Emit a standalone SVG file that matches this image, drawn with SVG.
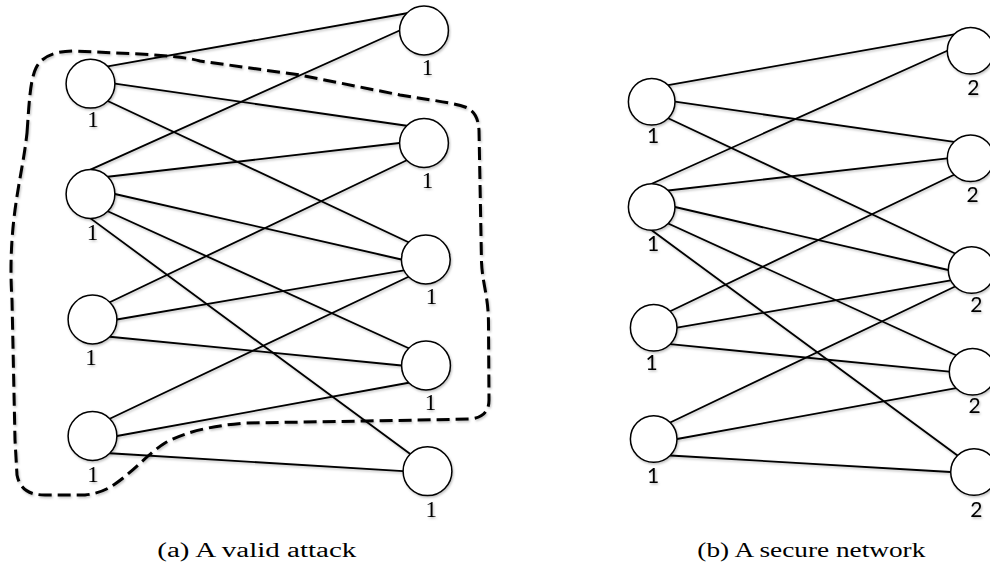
<svg xmlns="http://www.w3.org/2000/svg" width="990" height="563" viewBox="0 0 990 563">
<defs>
<filter id="sh" x="-10%" y="-10%" width="120%" height="120%">
<feDropShadow dx="1" dy="1.5" stdDeviation="1" flood-color="#000" flood-opacity="0.25"/>
</filter>
</defs>
<style>
.edge{stroke:#000;stroke-width:1.8;fill:none;stroke-linecap:round}
.node circle{fill:#fff;stroke:#000;stroke-width:1.5}
.lbl{font-family:"Liberation Serif","Times New Roman",serif;font-size:23px;fill:#000;text-anchor:middle}
.lbl2{font-family:Lato,"DejaVu Sans",sans-serif;font-size:21px;fill:#000;text-anchor:middle}
.cap{font-family:"Liberation Serif","Times New Roman",serif;font-size:20px;fill:#000}
.region{fill:none;stroke:#000;stroke-width:3;stroke-dasharray:13 6}
</style>
<rect width="990" height="563" fill="#fff"/>

<g id="attack-region" filter="url(#sh)">
<path class="region" d="M 27,133 C 29,105 30,80 36,68 C 42,56 55,51 75,51 L 140,54 C 170,56 185,57 200,61 L 300,75 L 400,95 C 430,100 455,103 465,107 C 475,111 478,118 479,130 L 481.5,262 C 482.5,285 488.5,295 488.5,325 L 489,400 C 489,412 482,418 470,419 L 367,421 L 245,423 C 210,426 185,432 165,443 C 150,452 135,470 115,484 C 105,491 95,494 85,495 L 45,495 C 30,495 20,490 17,475 L 15,440 L 12,300 C 10,270 11,240 15,210 C 19,180 24,160 27,133 Z"/>
</g>

<g id="connectors" filter="url(#sh)">
<g id="edges-a">
<line class="edge" x1="107.75" y1="66.45" x2="406.75" y2="13.25"/>
<line class="edge" x1="114.9" y1="83.7" x2="406.75" y2="125.75"/>
<line class="edge" x1="107.75" y1="100.95" x2="408.55" y2="242.25"/>
<line class="edge" x1="90.5" y1="169.6" x2="399.6" y2="30.5"/>
<line class="edge" x1="107.75" y1="176.75" x2="399.6" y2="143"/>
<line class="edge" x1="114.9" y1="194" x2="401.4" y2="259.5"/>
<line class="edge" x1="107.75" y1="211.25" x2="408.75" y2="348.25"/>
<line class="edge" x1="90.5" y1="218.4" x2="410.25" y2="453.95"/>
<line class="edge" x1="109.75" y1="302.25" x2="406.75" y2="160.25"/>
<line class="edge" x1="116.9" y1="319.5" x2="404" y2="270.4"/>
<line class="edge" x1="109.75" y1="336.75" x2="401.6" y2="365.5"/>
<line class="edge" x1="109.75" y1="418.75" x2="408.55" y2="276.75"/>
<line class="edge" x1="116.9" y1="436" x2="408.75" y2="382.75"/>
<line class="edge" x1="109.75" y1="453.25" x2="403.1" y2="471.2"/>
</g>
<g id="edges-b">
<line class="edge" x1="668.2" y1="85.2" x2="954.1" y2="34.3"/>
<line class="edge" x1="675" y1="101.7" x2="954.1" y2="141.8"/>
<line class="edge" x1="668.2" y1="118.2" x2="955.1" y2="253.5"/>
<line class="edge" x1="651.7" y1="183.7" x2="947.3" y2="50.8"/>
<line class="edge" x1="668.2" y1="190.5" x2="947.3" y2="158.3"/>
<line class="edge" x1="675" y1="207" x2="948.3" y2="270"/>
<line class="edge" x1="668.2" y1="223.5" x2="956.1" y2="355.2"/>
<line class="edge" x1="651.7" y1="230.3" x2="957.5" y2="455.5"/>
<line class="edge" x1="670.2" y1="311.2" x2="954.1" y2="174.8"/>
<line class="edge" x1="677" y1="327.7" x2="950.8" y2="280.4"/>
<line class="edge" x1="670.2" y1="344.2" x2="949.3" y2="371.7"/>
<line class="edge" x1="670.2" y1="422.5" x2="955.1" y2="286.5"/>
<line class="edge" x1="677" y1="439" x2="956.1" y2="388.2"/>
<line class="edge" x1="670.2" y1="455.5" x2="950.7" y2="472"/>
</g>
</g>

<g id="nodes-a" filter="url(#sh)">
<g id="a-L1" class="node"><circle cx="90.5" cy="83.7" r="24.4"/><text class="lbl" x="93" y="127">1</text></g>
<g id="a-L2" class="node"><circle cx="90.5" cy="194" r="24.4"/><text class="lbl" x="92.5" y="240">1</text></g>
<g id="a-L3" class="node"><circle cx="92.5" cy="319.5" r="24.4"/><text class="lbl" x="91" y="365">1</text></g>
<g id="a-L4" class="node"><circle cx="92.5" cy="436" r="24.4"/><text class="lbl" x="93" y="482">1</text></g>
<g id="a-R1" class="node"><circle cx="424" cy="30.5" r="24.4"/><text class="lbl" x="427.5" y="75">1</text></g>
<g id="a-R2" class="node"><circle cx="424" cy="143" r="24.4"/><text class="lbl" x="427.5" y="188">1</text></g>
<g id="a-R3" class="node"><circle cx="425.8" cy="259.5" r="24.4"/><text class="lbl" x="431.5" y="304">1</text></g>
<g id="a-R4" class="node"><circle cx="426" cy="365.5" r="24.4"/><text class="lbl" x="430.5" y="410">1</text></g>
<g id="a-R5" class="node"><circle cx="427.5" cy="471.2" r="24.4"/><text class="lbl" x="431.3" y="517">1</text></g>
</g>

<g id="nodes-b" filter="url(#sh)">
<g id="b-L1" class="node"><circle cx="651.7" cy="101.7" r="23.3"/><text class="lbl2" x="653" y="143">1</text></g>
<g id="b-L2" class="node"><circle cx="651.7" cy="207" r="23.3"/><text class="lbl2" x="653" y="251">1</text></g>
<g id="b-L3" class="node"><circle cx="653.7" cy="327.7" r="23.3"/><text class="lbl2" x="651.7" y="370">1</text></g>
<g id="b-L4" class="node"><circle cx="653.7" cy="439" r="23.3"/><text class="lbl2" x="653" y="483">1</text></g>
<g id="b-R1" class="node"><circle cx="970.6" cy="50.8" r="23.3"/><text class="lbl2" x="973.3" y="95">2</text></g>
<g id="b-R2" class="node"><circle cx="970.6" cy="158.3" r="23.3"/><text class="lbl2" x="972.5" y="202">2</text></g>
<g id="b-R3" class="node"><circle cx="971.6" cy="270" r="23.3"/><text class="lbl2" x="976.3" y="312">2</text></g>
<g id="b-R4" class="node"><circle cx="972.6" cy="371.7" r="23.3"/><text class="lbl2" x="974.7" y="413">2</text></g>
<g id="b-R5" class="node"><circle cx="974" cy="472" r="23.3"/><text class="lbl2" x="976.3" y="517">2</text></g>
</g>

<g id="captions">
<text class="cap" x="157.3" y="556.7" textLength="199" lengthAdjust="spacingAndGlyphs">(a) A valid attack</text>
<text class="cap" x="697.3" y="556.7" textLength="228" lengthAdjust="spacingAndGlyphs">(b) A secure network</text>
</g>
</svg>
